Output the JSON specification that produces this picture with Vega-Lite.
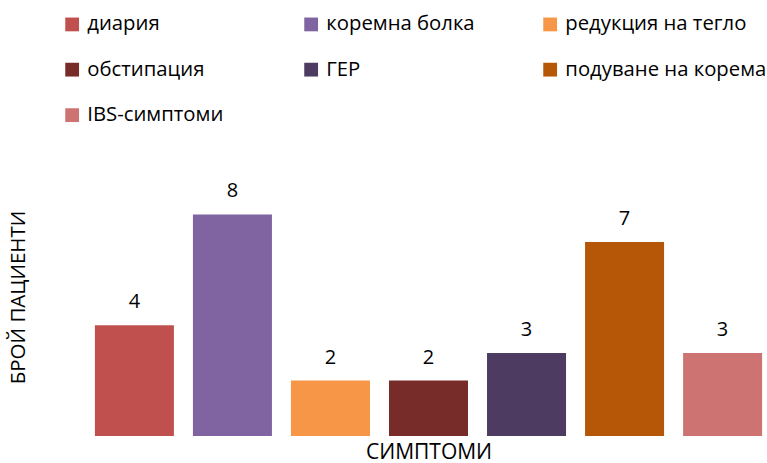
{
  "$schema": "https://vega.github.io/schema/vega-lite/v6.json",
  "autosize": "none",
  "width": 677,
  "height": 277,
  "padding": {"left": 90, "top": 159, "right": 0, "bottom": 27},
  "background": "white",
  "config": {"view": {"stroke": null}, "font": "Open Sans"},
  "data": {"values": [
    {"symptom": "диария", "count": 4},
    {"symptom": "коремна болка", "count": 8},
    {"symptom": "редукция на тегло", "count": 2},
    {"symptom": "обстипация", "count": 2},
    {"symptom": "ГЕР", "count": 3},
    {"symptom": "подуване на корема", "count": 7},
    {"symptom": "IBS-симптоми", "count": 3}
  ]},
  "encoding": {
    "x": {"field": "symptom", "type": "nominal", "sort": null,
      "scale": {"paddingInner": 0.194, "paddingOuter": 0.05},
      "axis": {"title": "СИМПТОМИ", "domain": false, "ticks": false, "labels": false, "grid": false,
        "titleFont": "Open Sans", "titleFontSize": 21, "titleFontWeight": "normal", "titleColor": "#000000", "titlePadding": 5}},
    "y": {"field": "count", "type": "quantitative", "scale": {"domain": [0, 10]},
      "axis": {"title": "БРОЙ ПАЦИЕНТИ", "domain": false, "ticks": false, "labels": false, "grid": false,
        "titleFont": "Open Sans", "titleFontSize": 20.5, "titleFontWeight": "normal", "titleColor": "#000000",
        "titleX": -72, "titleY": 138, "titleBaseline": "middle", "titleAlign": "center", "titleAngle": -90}}
  },
  "layer": [
    {"mark": {"type": "bar"},
     "encoding": {
       "color": {"field": "symptom", "type": "nominal", "sort": null,
         "scale": {"domain": ["диария", "коремна болка", "редукция на тегло", "обстипация", "ГЕР", "подуване на корема", "IBS-симптоми"],
                   "range": ["#C0504D", "#8064A2", "#F79646", "#772C2A", "#4D3B62", "#B65708", "#CD7371"]},
         "legend": {"title": null, "orient": "none", "direction": "horizontal", "legendX": -28, "legendY": -145, "columns": 3, "gridAlign": "all",
           "columnPadding": 12, "rowPadding": 24.5, "symbolType": "square", "symbolSize": 190, "symbolStrokeWidth": 0,
           "labelFont": "Open Sans", "labelFontSize": 20.3, "labelColor": "#000000", "labelOffset": 5, "labelLimit": 400}}
     }},
    {"mark": {"type": "text", "baseline": "alphabetic", "dy": -17, "fontSize": 20, "font": "Open Sans", "color": "#000000"},
     "encoding": {"text": {"field": "count", "type": "quantitative"}}}
  ]
}
